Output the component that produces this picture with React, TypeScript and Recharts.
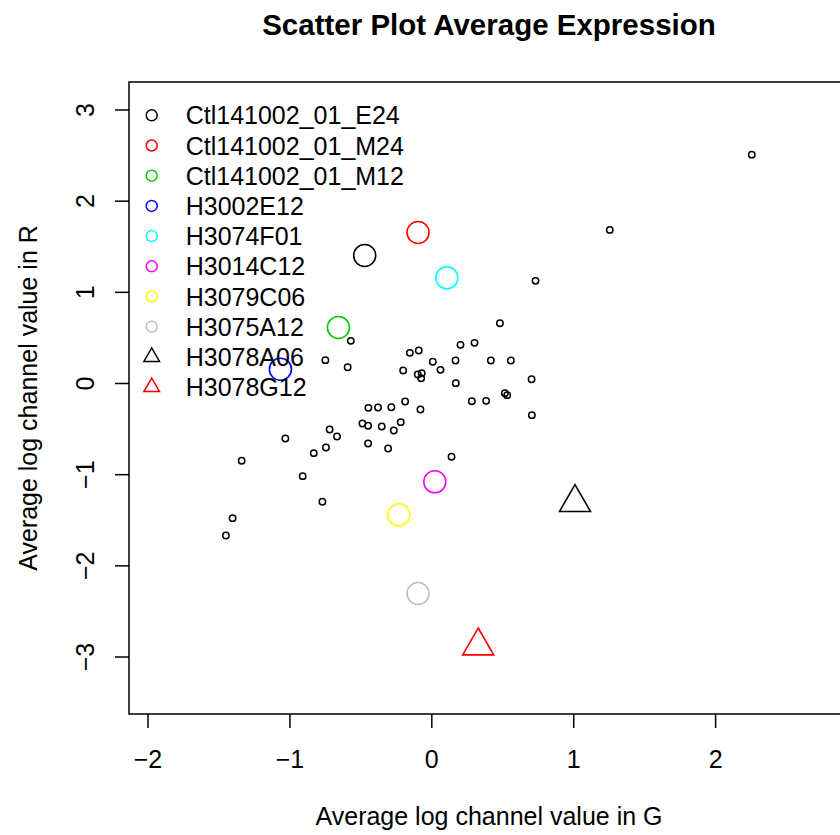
import React, { useLayoutEffect } from 'react';
import { ScatterChart, Scatter, XAxis, YAxis, ReferenceArea, Legend } from 'recharts';

const FONT = '"Liberation Sans", Arial, Helvetica, sans-serif';

// background genes: average log channel value in G (x) and R (y)
const bgG = [2.255, 1.254, 0.731, 0.48, 0.557, 0.703, 0.515, 0.531, 0.705, 0.202, 0.301, -0.155, -0.092, 0.007, 0.167, 0.416, -0.202, -0.099, -0.071, -0.075, 0.061, 0.169, 0.282, 0.383, -0.188, -0.08, -0.219, 0.139, -0.571, -0.75, -0.593, -0.447, -0.379, -0.285, -0.489, -0.449, -0.353, -0.268, -0.72, -0.668, -1.032, -0.449, -0.308, -0.746, -0.832, -1.34, -0.91, -0.771, -1.404, -1.451];
const bgR = [2.51, 1.685, 1.126, 0.661, 0.252, 0.047, -0.106, -0.128, -0.347, 0.424, 0.446, 0.336, 0.362, 0.238, 0.252, 0.252, 0.143, 0.099, 0.113, 0.058, 0.15, 0.004, -0.194, -0.19, -0.197, -0.285, -0.424, -0.804, 0.468, 0.256, 0.179, -0.267, -0.263, -0.26, -0.439, -0.464, -0.471, -0.515, -0.504, -0.581, -0.603, -0.658, -0.713, -0.702, -0.764, -0.848, -1.016, -1.297, -1.477, -1.667];

// highlighted samples
const sampleNames = ['Ctl141002_01_E24', 'Ctl141002_01_M24', 'Ctl141002_01_M12', 'H3002E12', 'H3074F01', 'H3014C12', 'H3079C06', 'H3075A12', 'H3078A06', 'H3078G12'];
const sampleG = [-0.473, -0.097, -0.658, -1.067, 0.106, 0.021, -0.233, -0.097, 1.009, 0.327];
const sampleR = [1.404, 1.656, 0.614, 0.157, 1.159, -1.078, -1.44, -2.303, -1.305, -2.878];
const sampleColors = ['#000000', '#FF0000', '#00CD00', '#0000FF', '#00FFFF', '#FF00FF', '#FFFF00', '#BEBEBE', '#000000', '#FF0000'];
const sampleShapes = ['circle', 'circle', 'circle', 'circle', 'circle', 'circle', 'circle', 'circle', 'triangle', 'triangle'];

const xTicks = [-2, -1, 0, 1, 2];
const yTicks = [-3, -2, -1, 0, 1, 2, 3];
const xDomain: [number, number] = [-2.134, 2.94];
const yDomain: [number, number] = [-3.625, 3.307];

const bgData = bgG.map((g, i) => ({ g, r: bgR[i] }));
const sampleData = sampleNames.map((name, i) => ({
  name,
  g: sampleG[i],
  r: sampleR[i],
  color: sampleColors[i],
  shape: sampleShapes[i],
}));

const fmt = (v: number) => (v < 0 ? '\u2212' + Math.abs(v) : String(v));
const tri = (cx: number, cy: number, r: number) =>
  `M${cx},${cy - r}L${cx + 0.866 * r},${cy + 0.5 * r}L${cx - 0.866 * r},${cy + 0.5 * r}Z`;

const XTick = (props: any) => {
  const { x, y, payload } = props;
  return (
    <text x={x} y={y + 40} textAnchor="middle" fontSize={25} fontFamily={FONT} fill="#000">
      {fmt(payload.value)}
    </text>
  );
};

const YTick = (props: any) => {
  const { x, y, payload } = props;
  const X = x - 21;
  return (
    <text x={X} y={y} transform={`rotate(-90 ${X} ${y})`} textAnchor="middle" fontSize={25} fontFamily={FONT} fill="#000">
      {fmt(payload.value)}
    </text>
  );
};

const bgShape = (props: any) => {
  const { cx, cy } = props;
  return <circle cx={cx} cy={cy} r={3.2} fill="none" stroke="#000" strokeWidth={1.5} />;
};

const sampleShape = (props: any) => {
  const { cx, cy, payload } = props;
  if (payload.shape === 'triangle') {
    return <path d={tri(cx, cy, 17.9)} fill="none" stroke={payload.color} strokeWidth={1.6} />;
  }
  return <circle cx={cx} cy={cy} r={11} fill="none" stroke={payload.color} strokeWidth={1.6} />;
};

const LegendBox = () => (
  <svg width={440} height={420} style={{ display: 'block', overflow: 'visible' }}>
    {sampleNames.map((name, i) => {
      const cy = 107.3 + 30.2 * i;
      const cx = 143.7;
      return (
        <g key={name}>
          {sampleShapes[i] === 'triangle' ? (
            <path d={tri(cx, cy, 9)} fill="none" stroke={sampleColors[i]} strokeWidth={1.5} />
          ) : (
            <circle cx={cx} cy={cy} r={5.5} fill="none" stroke={sampleColors[i]} strokeWidth={1.5} />
          )}
          <text x={177.7} y={cy + 9} fontSize={25} fontFamily={FONT} fill="#000">
            {name}
          </text>
        </g>
      );
    })}
  </svg>
);

const XLabel = (props: any) => {
  const vb = props.viewBox || {};
  const cx = (vb.x ?? 121) + (vb.width ?? 720) / 2;
  return (
    <text x={cx} y={817} textAnchor="middle" fontSize={25} fontFamily={FONT} fill="#000">
      Average log channel value in G
    </text>
  );
};

const YLabel = () => {
  const X = 29;
  const Y = 390;
  return (
    <text x={X} y={Y} transform={`rotate(-90 ${X} ${Y})`} textAnchor="middle" fontSize={25} fontFamily={FONT} fill="#000">
      Average log channel value in R
    </text>
  );
};

export default function App() {
  useLayoutEffect(() => {
    document.body.style.margin = '0';
    document.body.style.overflow = 'hidden';
    document.documentElement.style.overflow = 'hidden';
  }, []);
  return (
    <div
      style={{
        position: 'relative',
        width: 840,
        height: 835,
        overflow: 'hidden',
        fontFamily: FONT,
        background: '#fff',
      }}
    >
      <div
        style={{
          position: 'absolute',
          left: 189,
          width: 600,
          top: 8,
          textAlign: 'center',
          fontSize: 29.5,
          fontWeight: 'bold',
          lineHeight: '34px',
          color: '#000',
          zIndex: 2,
        }}
      >
        Scatter Plot Average Expression
      </div>
      <div style={{ position: 'absolute', left: 8, top: 8 }}>
        <ScatterChart width={860} height={827} margin={{ top: 74, right: 19, bottom: 0, left: 0 }}>
          <XAxis
            type="number"
            dataKey="g"
            domain={xDomain}
            ticks={xTicks}
            allowDataOverflow
            interval={0}
            height={121}
            tickSize={14}
            tickMargin={0}
            axisLine={false}
            tickLine={{ stroke: '#000', strokeWidth: 1.5 }}
            tick={XTick}
            label={{ content: XLabel }}
          />
          <YAxis
            type="number"
            dataKey="r"
            domain={yDomain}
            ticks={yTicks}
            allowDataOverflow
            interval={0}
            width={121}
            tickSize={14}
            tickMargin={0}
            axisLine={false}
            tickLine={{ stroke: '#000', strokeWidth: 1.5 }}
            tick={YTick}
            label={{ content: YLabel }}
          />
          <ReferenceArea
            x1={xDomain[0]}
            x2={xDomain[1]}
            y1={yDomain[0]}
            y2={yDomain[1]}
            fill="none"
            fillOpacity={0}
            stroke="#000"
            strokeWidth={1.5}
            strokeOpacity={1}
          />
          <Scatter data={bgData} dataKey="r" shape={bgShape} isAnimationActive={false} legendType="none" />
          <Scatter data={sampleData} dataKey="r" shape={sampleShape} isAnimationActive={false} legendType="none" />
          <Legend
            layout="vertical"
            align="center"
            verticalAlign="middle"
            wrapperStyle={{ left: 0, top: 0, width: 440, height: 420 }}
            content={() => <LegendBox />}
          />
        </ScatterChart>
      </div>
    </div>
  );
}
